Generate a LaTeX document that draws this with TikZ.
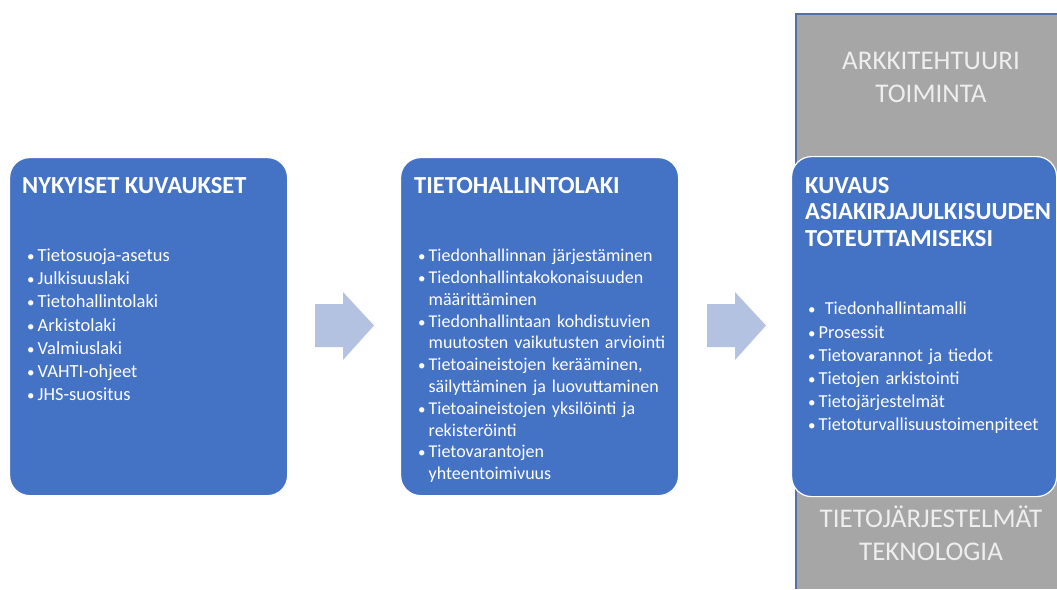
\documentclass[tikz,border=0pt]{standalone}
\usepackage{fontspec}
\setmainfont{Carlito}
\definecolor{boxblue}{HTML}{4472C4}
\definecolor{arrowblue}{HTML}{B4C2E2}
\definecolor{graybg}{HTML}{A6A6A6}
\definecolor{grayborder}{HTML}{5470A8}
\definecolor{graytext}{HTML}{EEEEEE}
\newcommand\bitem[1]{\hangindent=10.5pt\hangafter=1\noindent\makebox[10.5pt][l]{\fontsize{15}{15}\selectfont •}#1\par}
\begin{document}
\begin{tikzpicture}[x=1pt,y=-1pt,
  bluebox/.style={draw=white, line width=1.2pt, fill=boxblue, rounded corners=20pt, anchor=north west, inner sep=0pt},
  boxtitle/.style={anchor=north west, inner sep=0pt, text=white, font=\bfseries\fontsize{24.5}{26.5}\selectfont, align=left},
  boxlist/.style={anchor=north west, inner sep=0pt, text=white, text width=262pt, align=left},
  graylabel/.style={text=graytext, font=\fontsize{27}{33}\selectfont, align=center, inner sep=0pt},
  blockarrow/.style={fill=arrowblue, draw=none}]
\useasboundingbox (0,0) rectangle (1057,589);
\fill[graybg] (796,14) rectangle (1057,589);
\draw[grayborder, line width=1.5pt] (796,589) -- (796,14) -- (1057,14);
% boxes
\node[bluebox, minimum width=278pt, minimum height=338pt] (b1) at (9,157) {};
\node[bluebox, minimum width=278pt, minimum height=338pt] (b2) at (400,157) {};
\node[bluebox, minimum width=265pt, minimum height=340pt] (b3) at (791,156) {};
% arrows
\fill[blockarrow] (315,304) -- (343,304) -- (343,292) -- (374,325.5) -- (343,360) -- (343,347) -- (315,347) -- cycle;
\fill[blockarrow] (707,304) -- (735,304) -- (735,292) -- (766,325.5) -- (735,360) -- (735,347) -- (707,347) -- cycle;
% gray labels
\node[graylabel] (arch) at (931,77) {ARKKITEHTUURI\\TOIMINTA};
\node[graylabel] (tech) at (931,533) {TIETOJÄRJESTELMÄT\\TEKNOLOGIA};
% titles
\node[boxtitle] (t1) at (22,177) {NYKYISET KUVAUKSET};
\node[boxtitle] (t2) at (414,177) {TIETOHALLINTOLAKI};
\node[boxtitle] (t3) at (805,177) {KUVAUS\\ASIAKIRJAJULKISUUDEN\\TOTEUTTAMISEKSI};
% lists
\node[boxlist, font=\fontsize{18.5}{23.2}\selectfont] (l1) at (27,248.5) {%
\bitem{Tietosuoja-asetus}
\bitem{Julkisuuslaki}
\bitem{Tietohallintolaki}
\bitem{Arkistolaki}
\bitem{Valmiuslaki}
\bitem{VAHTI-ohjeet}
\bitem{JHS-suositus}};
\node[boxlist, font=\fontsize{18}{21.8}\selectfont] (l2) at (418,249) {%
\bitem{Tiedonhallinnan järjestäminen}
\bitem{Tiedonhallintakokonaisuuden\newline määrittäminen}
\bitem{Tiedonhallintaan kohdistuvien\newline muutosten vaikutusten arviointi}
\bitem{Tietoaineistojen kerääminen,\newline säilyttäminen ja luovuttaminen}
\bitem{Tietoaineistojen yksilöinti ja\newline rekisteröinti}
\bitem{Tietovarantojen\newline yhteentoimivuus}};
\node[boxlist, text width=240pt, font=\fontsize{18.3}{23.2}\selectfont] (l3) at (808,302) {%
\bitem{\ Tiedonhallintamalli}
\bitem{Prosessit}
\bitem{Tietovarannot ja tiedot}
\bitem{Tietojen arkistointi}
\bitem{Tietojärjestelmät}
\bitem{Tietoturvallisuustoimenpiteet}};
\end{tikzpicture}
\end{document}
